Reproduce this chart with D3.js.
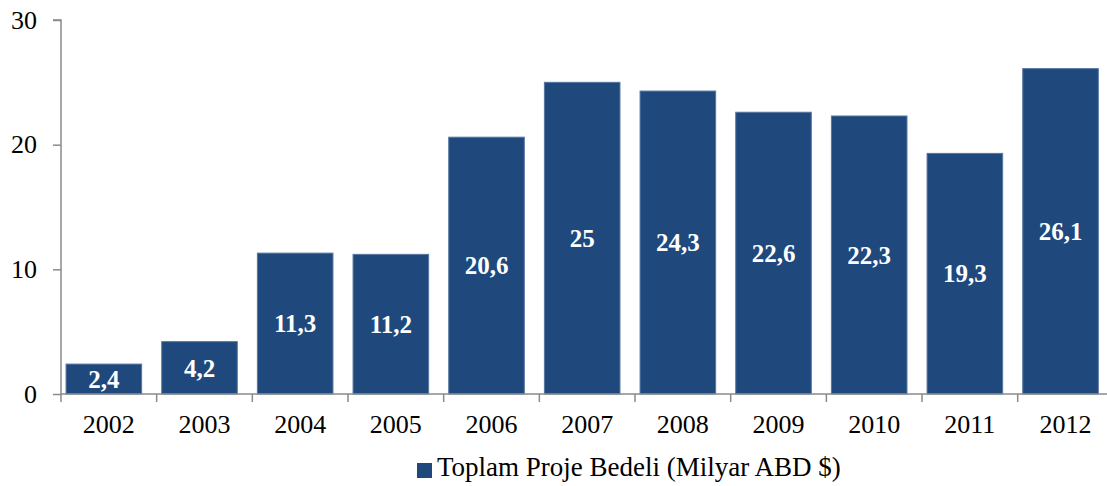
<!DOCTYPE html>
<html>
<head>
<meta charset="utf-8">
<script src="https://cdnjs.cloudflare.com/ajax/libs/d3/7.8.5/d3.min.js"></script>
<style>
  body { margin: 0; background: #fff; }
  text { font-family: "Liberation Serif", "Times New Roman", serif; }
</style>
</head>
<body>
<div class="chart"></div>
<script>
const years = ["2002","2003","2004","2005","2006","2007","2008","2009","2010","2011","2012"];
const values = [2.4, 4.2, 11.3, 11.2, 20.6, 25, 24.3, 22.6, 22.3, 19.3, 26.1];
const yTicks = [0, 10, 20, 30];
const seriesName = "Toplam Proje Bedeli (Milyar ABD $)";

const W = 1107, H = 486;
const x0 = 61, step = 95.67;
const y0 = 394, yTop = 20;

const svg = d3.select(".chart").append("svg").attr("width", W).attr("height", H);

// bars sit a little left of the centre of their slot, as in the original
const xScale = d3.scaleBand().domain(years).range([x0 - 5, x0 - 5 + step * years.length]).paddingInner(0.21).paddingOuter(0.105);
const slot = d3.scaleBand().domain(years).range([x0, x0 + step * years.length]);
const yScale = d3.scaleLinear().domain([0, 30]).range([y0, yTop]);

const barColor = "#1f497d";
const axisColor = "#8a8a8a";

// bars
svg.selectAll("rect.bar")
  .data(values)
  .enter()
  .append("rect")
  .attr("class", "bar")
  .attr("x", (d, i) => xScale(years[i]))
  .attr("y", d => yScale(d))
  .attr("width", xScale.bandwidth())
  .attr("height", d => y0 - yScale(d))
  .attr("fill", barColor)
  .attr("stroke", "#5676a0")
  .attr("stroke-width", 1);

// value labels
const fmt = v => String(v).replace(".", ",");
svg.selectAll("text.val")
  .data(values)
  .enter()
  .append("text")
  .attr("class", "val")
  .attr("x", (d, i) => xScale(years[i]) + xScale.bandwidth() / 2)
  .attr("y", d => (yScale(d) + y0) / 2)
  .attr("dy", "0.35em")
  .attr("text-anchor", "middle")
  .attr("fill", "#fff")
  .attr("font-weight", "bold")
  .attr("font-size", 25)
  .text(fmt);

// y axis
const yAxis = d3.axisLeft(yScale).tickValues(yTicks).tickSize(8).tickPadding(16);
const gy = svg.append("g").attr("transform", `translate(${x0},0)`).call(yAxis);
gy.select(".domain").attr("stroke", axisColor).attr("stroke-width", 1.5).attr("d", `M-8,${yTop}H0V${y0}`);
gy.selectAll(".tick line").attr("stroke", axisColor).attr("stroke-width", 1.5);
gy.selectAll(".tick text").attr("font-size", 26).attr("fill", "#000").style("font-family", "Liberation Serif");

// x axis
const xTickPos = d3.range(years.length + 1).map(i => x0 + i * step);
svg.append("line")
  .attr("x1", x0).attr("x2", W).attr("y1", y0).attr("y2", y0)
  .attr("stroke", axisColor).attr("stroke-width", 1.5);
svg.selectAll("line.xt")
  .data(xTickPos)
  .enter()
  .append("line")
  .attr("class", "xt")
  .attr("x1", d => d).attr("x2", d => d)
  .attr("y1", y0).attr("y2", y0 + 8)
  .attr("stroke", axisColor).attr("stroke-width", 1.5);
svg.selectAll("text.xl")
  .data(years)
  .enter()
  .append("text")
  .attr("class", "xl")
  .attr("x", d => slot(d) + slot.bandwidth() / 2)
  .attr("y", 433)
  .attr("text-anchor", "middle")
  .attr("font-size", 26)
  .text(d => d);

// legend
const lg = svg.append("g").attr("transform", "translate(417,463)");
lg.append("rect").attr("width", 15).attr("height", 15).attr("fill", barColor);
lg.append("text").attr("x", 20).attr("y", 13).attr("font-size", 27).text(seriesName);
</script>
</body>
</html>
